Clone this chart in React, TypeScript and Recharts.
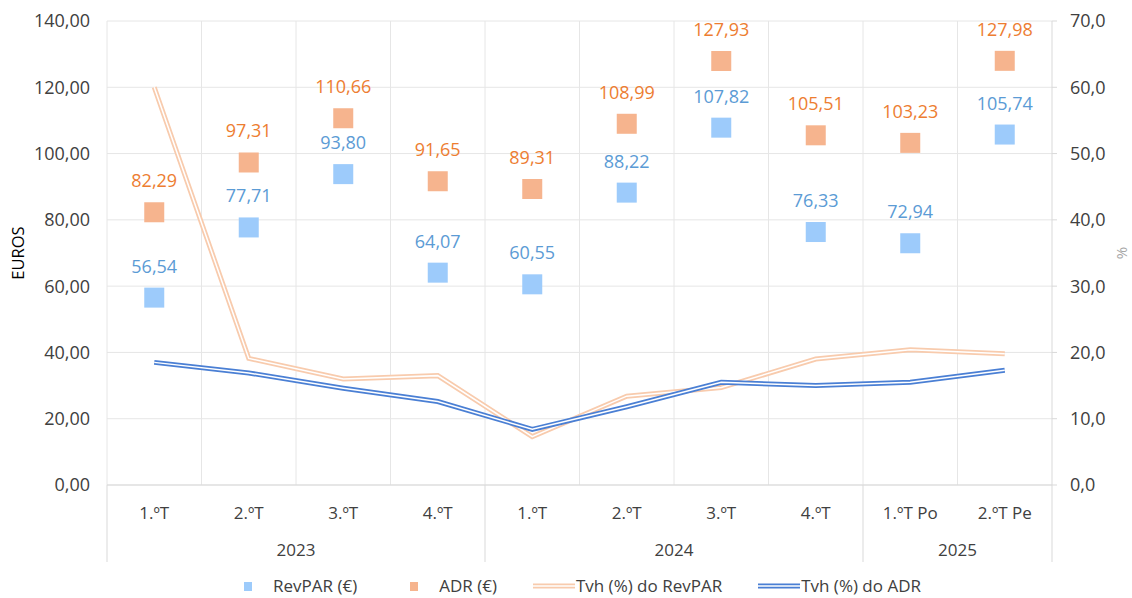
import React from "react";
import { ComposedChart, Scatter, Line, XAxis, YAxis, CartesianGrid } from "recharts";

const quarters = ["1.ºT", "2.ºT", "3.ºT", "4.ºT", "1.ºT", "2.ºT", "3.ºT", "4.ºT", "1.ºT Po", "2.ºT Pe"];
const years = [
  { label: "2023", span: 4 },
  { label: "2024", span: 4 },
  { label: "2025", span: 2 },
];
const revpar = [56.54, 77.71, 93.8, 64.07, 60.55, 88.22, 107.82, 76.33, 72.94, 105.74];
const adr = [82.29, 97.31, 110.66, 91.65, 89.31, 108.99, 127.93, 105.51, 103.23, 127.98];
const tvhRevpar = [60.0, 19.1, 16.0, 16.5, 7.3, 13.4, 14.7, 19.0, 20.4, 19.8];
const tvhAdr = [18.5, 16.9, 14.6, 12.6, 8.4, 11.8, 15.5, 15.0, 15.5, 17.3];
const leftTicks = [0, 20, 40, 60, 80, 100, 120, 140];
const rightTicks = [0, 10, 20, 30, 40, 50, 60, 70];

const data = quarters.map((q, i) => ({
  cat: i,
  quarter: q,
  revpar: revpar[i],
  adr: adr[i],
  tvhRevpar: tvhRevpar[i],
  tvhAdr: tvhAdr[i],
}));

const W = 1132;
const H = 598;
const LEFT_W = 107;
const RIGHT_W = 80;
const BAND = (W - LEFT_W - RIGHT_W) / quarters.length;
const FONT = "'Open Sans', sans-serif";
const TEXT = "#404040";
const GRID = "#e6e6e6";
const AXIS = "#d9d9d9";

const fmt2 = (v: number) => v.toFixed(2).replace(".", ",");
const fmt1 = (v: number) => v.toFixed(1).replace(".", ",");

// quarter label + year group label and separators under the axis
function QuarterTick(props: any) {
  const { x, y, index } = props;
  const half = BAND / 2;
  const parts: React.ReactNode[] = [];
  let start = 0;
  years.forEach((g, gi) => {
    if (index === start) {
      parts.push(<line key={"s" + gi} x1={x - half} x2={x - half} y1={y} y2={y + 77} stroke={AXIS} />);
      parts.push(
        <text key={"y" + gi} x={x - half + (g.span * BAND) / 2} y={y + 64} textAnchor="middle" dominantBaseline="central" fill={TEXT} fontSize={17} fontFamily={FONT}>
          {g.label}
        </text>
      );
    }
    if (gi === years.length - 1 && index === start + g.span - 1) {
      parts.push(<line key="end" x1={x + half} x2={x + half} y1={y} y2={y + 77} stroke={AXIS} />);
    }
    start += g.span;
  });
  return (
    <g>
      <text x={x} y={y + 27} textAnchor="middle" dominantBaseline="central" fill={TEXT} fontSize={17} fontFamily={FONT}>
        {quarters[index]}
      </text>
      {parts}
    </g>
  );
}

const makeSquare = (key: "revpar" | "adr", fill: string, labelFill: string) => (props: any) => {
  const { cx, cy, payload } = props;
  return (
    <g>
      <rect x={cx - 10} y={cy - 10} width={20} height={20} fill={fill} />
      <text x={cx} y={cy - 32} textAnchor="middle" dominantBaseline="central" fill={labelFill} fontSize={18} fontFamily={FONT}>
        {fmt2(payload[key])}
      </text>
    </g>
  );
};

const legendItems = [
  { label: "RevPAR (€)", kind: "square", color: "#9dcbfb" },
  { label: "ADR (€)", kind: "square", color: "#f6b48e" },
  { label: "Tvh (%) do RevPAR", kind: "line", color: "#f8cbad" },
  { label: "Tvh (%) do ADR", kind: "line", color: "#4a7fd4" },
];

export default function App() {
  return (
    <div style={{ position: "absolute", left: 0, top: 0, width: W, height: H, background: "#fff", overflow: "hidden" }}>
      <ComposedChart width={W} height={H} data={data} margin={{ top: 21, right: 0, left: 0, bottom: 33 }}>
        <CartesianGrid
          yAxisId="left"
          stroke={GRID}
          verticalCoordinatesGenerator={({ offset }: any) =>
            quarters.map((_, i) => offset.left + i * (offset.width / quarters.length))
          }
        />
        <XAxis
          dataKey="cat"
          type="category"
          scale="band"
          height={80}
          interval={0}
          tickSize={0}
          tickMargin={0}
          tickLine={false}
          axisLine={{ stroke: AXIS }}
          tick={<QuarterTick />}
        />
        <YAxis
          yAxisId="left"
          width={LEFT_W}
          domain={[0, 140]}
          ticks={leftTicks}
          tickFormatter={fmt2}
          axisLine={false}
          tickLine={false}
          tickSize={0}
          tickMargin={17}
          tick={{ fill: TEXT, fontSize: 18, fontFamily: FONT }}
          label={{
            value: "EUROS",
            content: (p: any) => {
              const vb = p.viewBox;
              const cy = vb.y + vb.height / 2;
              return (
                <text x={17} y={cy} transform={`rotate(-90 17 ${cy})`} textAnchor="middle" dominantBaseline="central" fill="#000" fontSize={16.5} fontFamily={FONT}>
                  EUROS
                </text>
              );
            },
          }}
        />
        <YAxis
          yAxisId="right"
          orientation="right"
          width={RIGHT_W}
          domain={[0, 70]}
          ticks={rightTicks}
          tickFormatter={fmt1}
          axisLine={{ stroke: AXIS }}
          tickLine={{ stroke: AXIS }}
          tickSize={5}
          tickMargin={13}
          tick={{ fill: TEXT, fontSize: 18, fontFamily: FONT }}
          label={{
            value: "%",
            content: (p: any) => {
              const vb = p.viewBox;
              const cy = vb.y + vb.height / 2;
              const lx = W - 11;
              return (
                <text x={lx} y={cy} transform={`rotate(-90 ${lx} ${cy})`} textAnchor="middle" dominantBaseline="central" fill="#a6a6a6" fontSize={15} fontFamily={FONT}>
                  %
                </text>
              );
            },
          }}
        />
        <Line yAxisId="right" dataKey="tvhRevpar" stroke="#f8cbad" strokeWidth={5} dot={false} activeDot={false} isAnimationActive={false} />
        <Line yAxisId="right" dataKey="tvhRevpar" stroke="#ffffff" strokeWidth={1.5} dot={false} activeDot={false} isAnimationActive={false} />
        <Line yAxisId="right" dataKey="tvhAdr" stroke="#4a7fd4" strokeWidth={5} dot={false} activeDot={false} isAnimationActive={false} />
        <Line yAxisId="right" dataKey="tvhAdr" stroke="#ffffff" strokeWidth={1.5} dot={false} activeDot={false} isAnimationActive={false} />
        <Scatter yAxisId="left" dataKey="adr" shape={makeSquare("adr", "#f6b48e", "#ed7d31")} isAnimationActive={false} />
        <Scatter yAxisId="left" dataKey="revpar" shape={makeSquare("revpar", "#9dcbfb", "#5b9bd5")} isAnimationActive={false} />
      </ComposedChart>
      <div
        style={{
          position: "absolute",
          left: 227,
          top: 574,
          height: 24,
          display: "flex",
          alignItems: "center",
          gap: 36,
          fontFamily: FONT,
          fontSize: 17,
          lineHeight: "24px",
          color: TEXT,
          whiteSpace: "nowrap",
        }}
      >
        {legendItems.map((it) => (
          <div key={it.label} style={{ display: "flex", alignItems: "center", height: 24 }}>
            <svg width={42} height={24} style={{ marginRight: it.kind === "square" ? 4 : 1 }}>
              {it.kind === "square" ? (
                <rect x={17} y={8} width={8} height={9} fill={it.color} />
              ) : (
                <g>
                  <line x1={0} x2={42} y1={12} y2={12} stroke={it.color} strokeWidth={5} />
                  <line x1={0} x2={42} y1={12} y2={12} stroke="#fff" strokeWidth={1.5} />
                </g>
              )}
            </svg>
            <span>{it.label}</span>
          </div>
        ))}
      </div>
    </div>
  );
}
